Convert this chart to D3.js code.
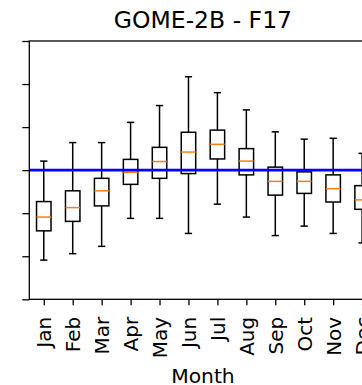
<!DOCTYPE html>
<html>
<head>
<meta charset="utf-8">
<script src="https://cdn.jsdelivr.net/npm/d3@7"></script>
<style>
  html, body { margin: 0; padding: 0; background: #fff; }
  svg { display: block; }
  text { font-family: "DejaVu Sans", sans-serif; fill: #000; }
</style>
</head>
<body>
<svg id="chart" width="362" height="385"></svg>
<script>
// Monthly distribution summary (whiskers, quartiles, median)
const months = ["Jan","Feb","Mar","Apr","May","Jun","Jul","Aug","Sep","Oct","Nov","Dec"];
const whiskerLow  = [-2.09, -1.94, -1.77, -1.12, -1.12, -1.47, -0.79, -1.09, -1.52, -1.30, -1.47, -1.69];
const q1          = [-1.41, -1.19, -0.83, -0.33, -0.19, -0.08,  0.26, -0.11, -0.58, -0.54, -0.74, -0.91];
const medians     = [-1.09, -0.87, -0.48, -0.05,  0.20,  0.42,  0.60,  0.21, -0.26, -0.26, -0.43, -0.69];
const q3          = [-0.73, -0.48, -0.19,  0.25,  0.53,  0.88,  0.93,  0.50,  0.07, -0.04, -0.11, -0.36];
const whiskerHigh = [ 0.21,  0.64,  0.64,  1.11,  1.50,  2.17,  1.80,  1.40,  0.89,  0.72,  0.74,  0.39];
const yTicks = [-3, -2, -1, 0, 1, 2, 3];
const refLevel = 0;
const title = "GOME-2B - F17";
const xLabel = "Month";

const rows = months.map((m, i) => ({
  m, pos: i + 1,
  lo: whiskerLow[i], q1: q1[i], med: medians[i], q3: q3[i], hi: whiskerHigh[i]
}));

const svg = d3.select("#chart");
const plotLeft = 29.3, plotTop = 41, plotW = 12 * 28.94, plotBottom = 299.3;

const x = d3.scaleLinear().domain([0.5, 12.5]).range([plotLeft, plotLeft + plotW]);
const y = d3.scaleLinear().domain([-3, 3]).range([plotBottom, plotTop]);

const boxHalf = x(1.25) - x(1);
const capHalf = boxHalf / 2;

// boxes
const g = svg.append("g");
const bx = g.selectAll("g.box").data(rows).join("g").attr("class", "box");

bx.append("line") // lower whisker
  .attr("x1", d => x(d.pos)).attr("x2", d => x(d.pos))
  .attr("y1", d => y(d.q1)).attr("y2", d => y(d.lo))
  .attr("stroke", "#000").attr("stroke-width", 1.5);
bx.append("line") // upper whisker
  .attr("x1", d => x(d.pos)).attr("x2", d => x(d.pos))
  .attr("y1", d => y(d.q3)).attr("y2", d => y(d.hi))
  .attr("stroke", "#000").attr("stroke-width", 1.5);
bx.append("line") // lower cap
  .attr("x1", d => x(d.pos) - capHalf).attr("x2", d => x(d.pos) + capHalf)
  .attr("y1", d => y(d.lo)).attr("y2", d => y(d.lo))
  .attr("stroke", "#000").attr("stroke-width", 1.5);
bx.append("line") // upper cap
  .attr("x1", d => x(d.pos) - capHalf).attr("x2", d => x(d.pos) + capHalf)
  .attr("y1", d => y(d.hi)).attr("y2", d => y(d.hi))
  .attr("stroke", "#000").attr("stroke-width", 1.5);
bx.append("rect")
  .attr("x", d => x(d.pos) - boxHalf).attr("width", 2 * boxHalf)
  .attr("y", d => y(d.q3)).attr("height", d => y(d.q1) - y(d.q3))
  .attr("fill", "none").attr("stroke", "#000").attr("stroke-width", 1.5);
bx.append("line") // median
  .attr("x1", d => x(d.pos) - boxHalf).attr("x2", d => x(d.pos) + boxHalf)
  .attr("y1", d => y(d.med)).attr("y2", d => y(d.med))
  .attr("stroke", "#ff7f0e").attr("stroke-width", 1.5);

// reference line
svg.append("line")
  .attr("x1", x(0.5)).attr("x2", x(12.5))
  .attr("y1", y(refLevel)).attr("y2", y(refLevel))
  .attr("stroke", "#0000ff").attr("stroke-width", 2.6);

// axes
const yAxis = d3.axisLeft(y).tickValues(yTicks).tickFormat("").tickSize(7).tickSizeOuter(0);
svg.append("g").attr("transform", `translate(${plotLeft},0)`).call(yAxis)
  .call(a => a.select(".domain").remove())
  .call(a => a.selectAll("line").attr("stroke", "#000").attr("stroke-width", 1.3));

const xAxis = d3.axisBottom(x).tickValues(rows.map(d => d.pos))
  .tickFormat((d, i) => months[i]).tickSize(6).tickSizeOuter(0);
svg.append("g").attr("transform", `translate(0,${plotBottom})`).call(xAxis)
  .call(a => a.select(".domain").remove())
  .call(a => a.selectAll("line").attr("stroke", "#000").attr("stroke-width", 1.3))
  .call(a => a.selectAll("text")
    .attr("font-size", "20px")
    .attr("font-family", "DejaVu Sans")
    .attr("fill", "#000")
    .attr("text-anchor", "end")
    .attr("transform", "rotate(-90)")
    .attr("x", -17.5).attr("y", 0).attr("dy", "0.35em"));

// frame
svg.append("rect")
  .attr("x", plotLeft).attr("y", plotTop)
  .attr("width", plotW).attr("height", plotBottom - plotTop)
  .attr("fill", "none").attr("stroke", "#000").attr("stroke-width", 1.3);

// title and axis label
svg.append("text").attr("x", x(6.5)).attr("y", 28.3)
  .attr("text-anchor", "middle").attr("font-size", "23.5px").text(title);
svg.append("text").attr("x", x(6.5)).attr("y", 383)
  .attr("text-anchor", "middle").attr("font-size", "20.3px").text(xLabel);
</script>
</body>
</html>
